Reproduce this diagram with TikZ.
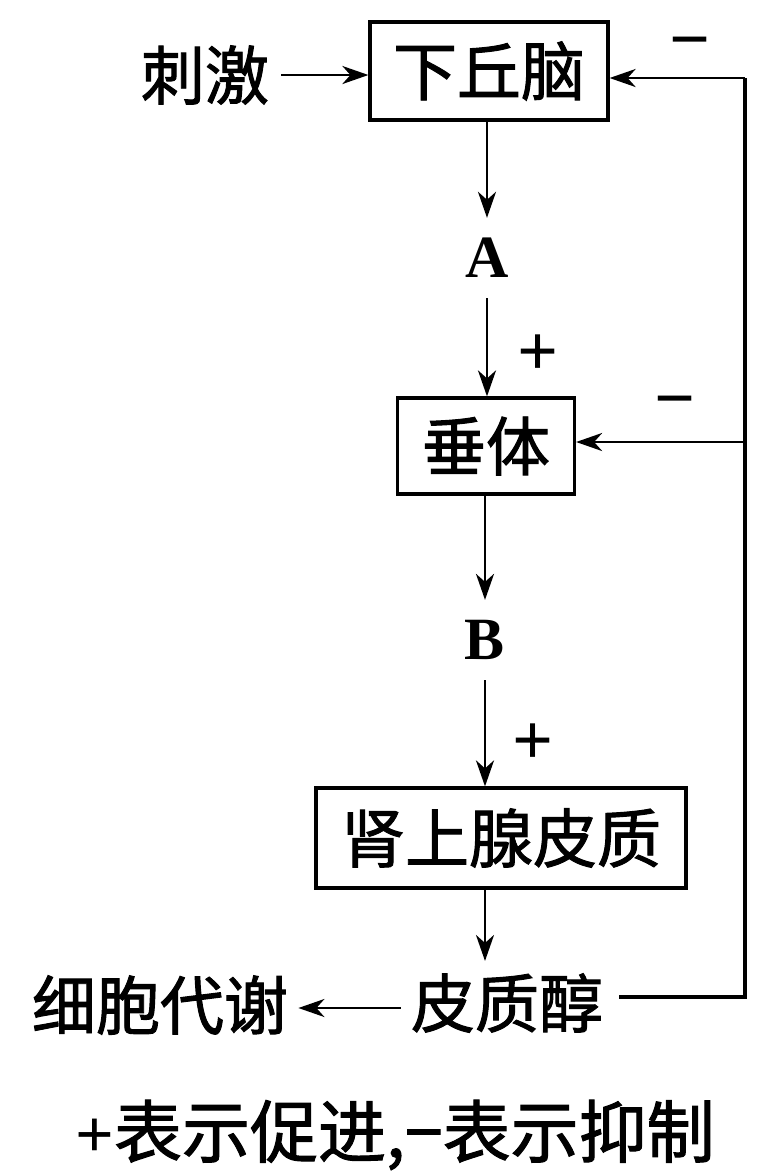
\documentclass[tikz,border=0pt]{standalone}
\usepackage{fontspec}
\setmainfont{Liberation Serif}
\newfontfamily\cjk{Noto Sans CJK SC}[FakeBold=1.5]
\usetikzlibrary{arrows.meta,positioning}

\begin{document}
\begin{tikzpicture}[
  x=0.5pt, y=-0.5pt,
  box/.style={draw, line width=1.6pt, inner sep=0pt,
    font=\cjk\fontsize{32}{38}\selectfont},
  word/.style={inner sep=0pt, font=\cjk\fontsize{32}{38}\selectfont},
  sign/.style={inner sep=10pt, font=\bfseries\fontsize{30}{36}\selectfont},
  pm/.style={inner sep=0pt, font=\bfseries\fontsize{36}{40}\selectfont},
  arr/.style={-{Stealth[length=13pt,width=9pt,inset=4pt]}, line width=1.4pt},
  fb/.style={line width=1.7pt}
]
\useasboundingbox (0,0) rectangle (768,1175);

% boxes
\node[box, minimum width=119pt, minimum height=49pt] (hyp) at (489,71)  {下丘脑};
\node[box, minimum width=88.5pt, minimum height=48pt] (pit) at (486,446) {垂体};
\node[box, minimum width=185pt, minimum height=50pt] (adr) at (501,838) {肾上腺皮质};

% words and signs
\node[word] (stim) at (205,75)   {刺激};
\node[word] (cort) at (507,1003) {皮质醇};
\node[word] (meta) at (160,1005) {细胞代谢};
\node[sign] (a) at (487,258) {A};
\node[sign] (b) at (485,640) {B};
\node[pm] (p1) at (538,355) {+};
\node[pm] (p2) at (533,744) {+};
\node[pm] (m1) at (690,50)  {−};
\node[pm] (m2) at (675,409) {−};
\node[word, font=\cjk\fontsize{34}{40}\selectfont] (note) at (395,1135)
  {{\fontspec{Liberation Serif}\bfseries+}表示促进,−表示抑制};

% feedback corners
\coordinate (fbt) at (745,78);
\coordinate (fbm) at (745,442);
\coordinate (fbb) at (745,997);

\draw[arr, shorten <=6pt] (stim) -- (hyp.west |- stim);
\draw[arr] (hyp.south -| a) -- (a);
\draw[arr] (a) -- (a |- pit.north);
\draw[arr] (pit.south -| b) -- (b);
\draw[arr] (b) -- (b |- adr.north);
\draw[arr, shorten >=6pt] (adr.south -| b) -- (b |- cort.north);
\draw[arr, shorten >=5pt, shorten <=5pt] (cort.west |- 0,1008) -- (meta.east |- 0,1008);

\draw[fb, shorten <=8pt] (cort.east |- fbb) -- (fbb) -- (fbt);
\draw[arr] (fbt) -- (fbt -| hyp.east);
\draw[arr] (fbm) -- (fbm -| pit.east);
\end{tikzpicture}
\end{document}
